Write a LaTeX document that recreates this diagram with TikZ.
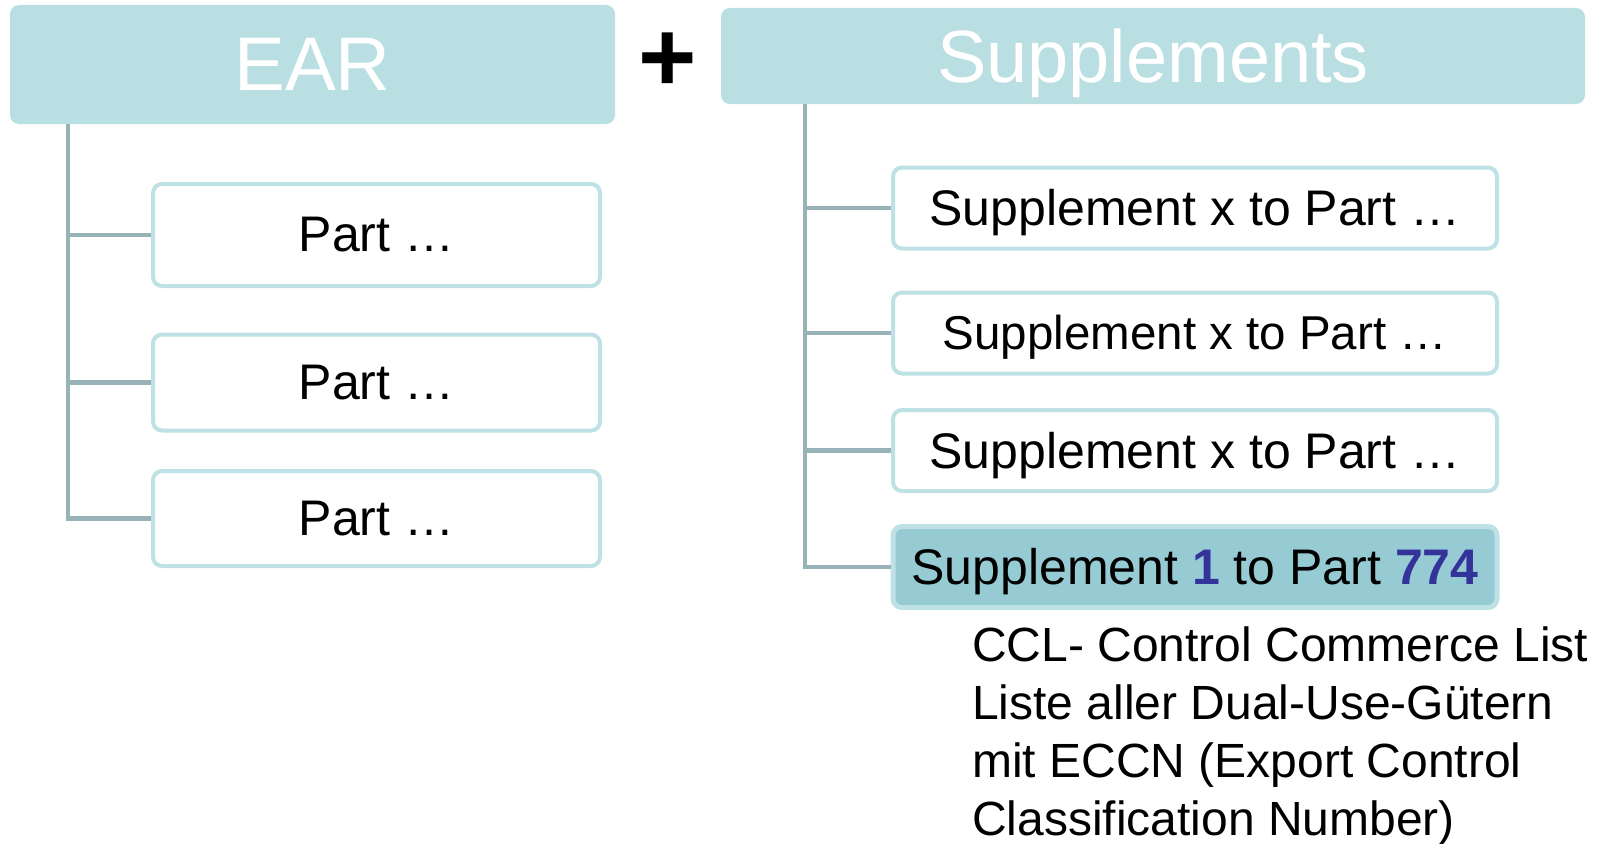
\documentclass[tikz,border=0pt]{standalone}
\usepackage{fontspec}
\setmainfont{Liberation Sans}
\definecolor{headfill}{HTML}{BADFE2}
\definecolor{boxline}{HTML}{BDE1E4}
\definecolor{connline}{HTML}{97B3B7}
\definecolor{hlfill}{HTML}{96CBD4}
\definecolor{numblue}{HTML}{33339A}
\begin{document}
\begin{tikzpicture}[x=1pt,y=-1pt,
  header/.style={fill=headfill, rounded corners=9pt, inner sep=0pt, text=white,
    font=\fontsize{76}{80}\selectfont},
  partbox/.style={draw=boxline, line width=4pt, fill=white, rounded corners=9pt,
    inner sep=0pt, minimum width=447pt, font=\fontsize{50}{60}\selectfont},
  suppbox/.style={draw=boxline, line width=4pt, fill=white, rounded corners=9pt,
    inner sep=0pt, minimum width=604pt, minimum height=81pt, text depth=0.07em,
    font=\fontsize{50}{60}\selectfont},
  conn/.style={draw=connline, line width=4.5pt}]
\useasboundingbox (0,0) rectangle (1608,843);

% headers
\node[header, minimum width=605pt, minimum height=119pt] (ear) at (312.5,64.5) {EAR};
\node[header, minimum width=864pt, minimum height=96pt, text depth=0.1em,
  font=\fontsize{74}{80}\selectfont] (supp) at (1153,56) {Supplements};
\node[font=\fontsize{100}{100}\bfseries, inner sep=0pt] (plus) at (668,62) {+};

% parts
\node[partbox, minimum height=102pt] (p1) at (376.5,235) {Part …};
\node[partbox, minimum height=96pt] (p2) at (376.5,382.5) {Part …};
\node[partbox, minimum height=95pt] (p3) at (376.5,518.5) {Part …};

% supplements
\node[suppbox] (s1) at (1195,208) {Supplement x to Part …};
\node[suppbox, font=\fontsize{47.5}{57}\selectfont] (s2) at (1195,333) {Supplement x to Part …};
\node[suppbox] (s3) at (1195,450.5) {Supplement x to Part …};
\node[suppbox, fill=hlfill, line width=5pt] (s4) at (1195,567)
  {Supplement {\bfseries\color{numblue}1} to Part {\bfseries\color{numblue}774}};

% description
\node[anchor=north west, align=left, inner sep=0pt, font=\fontsize{48}{58}\selectfont] (desc) at (972,626.5)
  {CCL- Control Commerce List\\Liste aller Dual-Use-Gütern\\mit ECCN (Export Control\\Classification Number)};

% connectors
\coordinate (lt) at ([xshift=58pt]ear.south west);
\coordinate (rt) at ([xshift=84pt]supp.south west);
\draw[conn] (lt) |- (p3.west);
\draw[conn] (p1.west) -- (p1.west -| lt);
\draw[conn] (p2.west) -- (p2.west -| lt);
\draw[conn] (rt) |- (s4.west);
\draw[conn] (s1.west) -- (s1.west -| rt);
\draw[conn] (s2.west) -- (s2.west -| rt);
\draw[conn] (s3.west) -- (s3.west -| rt);
\end{tikzpicture}
\end{document}
